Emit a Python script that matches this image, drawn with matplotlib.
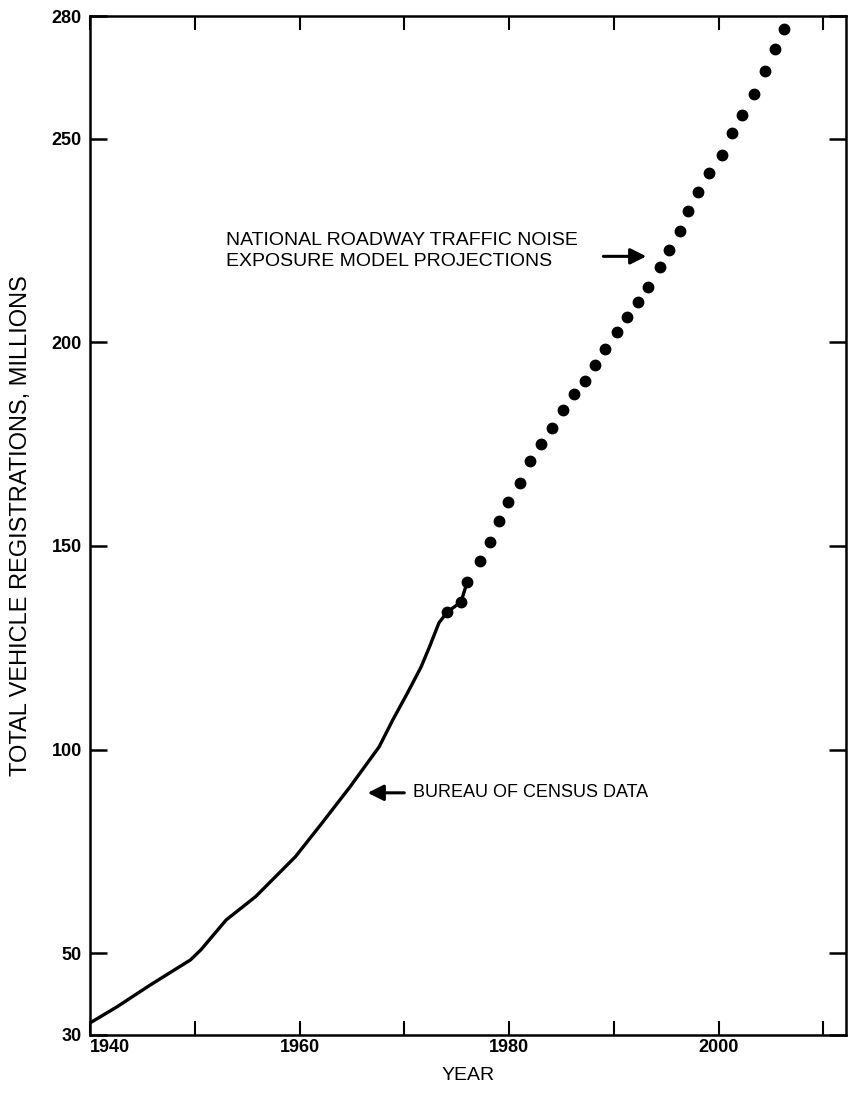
import matplotlib.pyplot as plt

# census registrations (solid curve), millions
census_years = [1940, 1942.6, 1945.8, 1949.6, 1950.6, 1953.0, 1955.8, 1959.6, 1962.0,
                1964.8, 1967.6, 1968.9, 1970.3, 1971.6, 1972.4, 1973.3, 1974.1, 1975.4, 1976.0]
census_values = [32.9, 36.9, 42.3, 48.4, 50.9, 58.2, 63.9, 73.7, 81.5,
                 90.8, 100.7, 107.3, 113.9, 120.3, 125.2, 131.1, 133.8, 136.2, 141.1]

# model projections (dots), millions
proj_years = [1974.1, 1975.4, 1976.0, 1977.2, 1978.2, 1979.0, 1979.9,
              1981.0, 1982.0, 1983.0, 1984.1, 1985.1, 1986.2, 1987.2, 1988.2, 1989.2, 1990.3,
              1991.3, 1992.3, 1993.3, 1994.4, 1995.3, 1996.3, 1997.1, 1998.0, 1999.1,
              2000.3, 2001.3, 2002.2, 2003.4, 2004.4, 2005.4, 2006.2]
proj_values = [133.8, 136.2, 141.1, 146.3, 150.9, 156.1, 160.8,
               165.5, 170.8, 175.0, 179.0, 183.3, 187.4, 190.6, 194.5, 198.3, 202.6,
               206.2, 209.8, 213.5, 218.4, 222.6, 227.3, 232.2, 236.8, 241.5,
               246.1, 251.5, 255.7, 260.9, 266.5, 271.9, 276.8]

x_ticks = [1940, 1950, 1960, 1970, 1980, 1990, 2000, 2010]
x_labels = ['1940', '', '1960', '', '1980', '', '2000', '']
y_ticks = [30, 50, 100, 150, 200, 250, 280]
y_labels = ['30', '50', '100', '150', '200', '250', '280']

plt.rcParams['font.family'] = ['Liberation Sans', 'DejaVu Sans']

fig = plt.figure(figsize=(8.49, 10.95), dpi=100)
ax = fig.add_axes([0.106, 0.055, 0.891, 0.930])

ax.plot(census_years, census_values, color='black', lw=2.4, solid_capstyle='round')
ax.plot(proj_years, proj_values, 'o', color='black', ms=7.5, mec='black')

ax.set_xlim(1940, 2012.2)
ax.set_ylim(30, 280)

for side in ax.spines.values():
    side.set_linewidth(1.8)

ax.set_xticks(x_ticks)
ax.set_xticklabels(x_labels)
ax.set_yticks(y_ticks)
ax.set_yticklabels(y_labels)
ax.tick_params(axis='x', direction='in', length=10, width=1.5, top=True,
               labelsize=13, pad=3)
ax.tick_params(axis='y', direction='in', length=12, width=1.8, right=True,
               labelsize=13, pad=6)
# corner label sits to the right of the origin
ax.get_xticklabels()[0].set_horizontalalignment('left')
for lab in ax.get_xticklabels() + ax.get_yticklabels():
    lab.set_fontweight('bold')

ax.set_xlabel('YEAR', fontsize=14, labelpad=8)
ax.set_ylabel('TOTAL VEHICLE REGISTRATIONS, MILLIONS', fontsize=17, labelpad=14)

arrow_style = dict(arrowstyle='-|>', color='black', lw=2.2, mutation_scale=24,
                   shrinkA=0, shrinkB=0)
ax.annotate('', xy=(1993.1, 221.1), xytext=(1989.0, 221.1), arrowprops=arrow_style)
ax.text(1953.0, 222.4, 'NATIONAL ROADWAY TRAFFIC NOISE\nEXPOSURE MODEL PROJECTIONS',
        fontsize=14, ha='left', va='center', linespacing=1.3)

ax.annotate('', xy=(1966.5, 89.4), xytext=(1970.0, 89.4), arrowprops=arrow_style)
ax.text(1970.8, 89.4, 'BUREAU OF CENSUS DATA', fontsize=13, ha='left', va='center')

fig.savefig('out.png', dpi=100)
